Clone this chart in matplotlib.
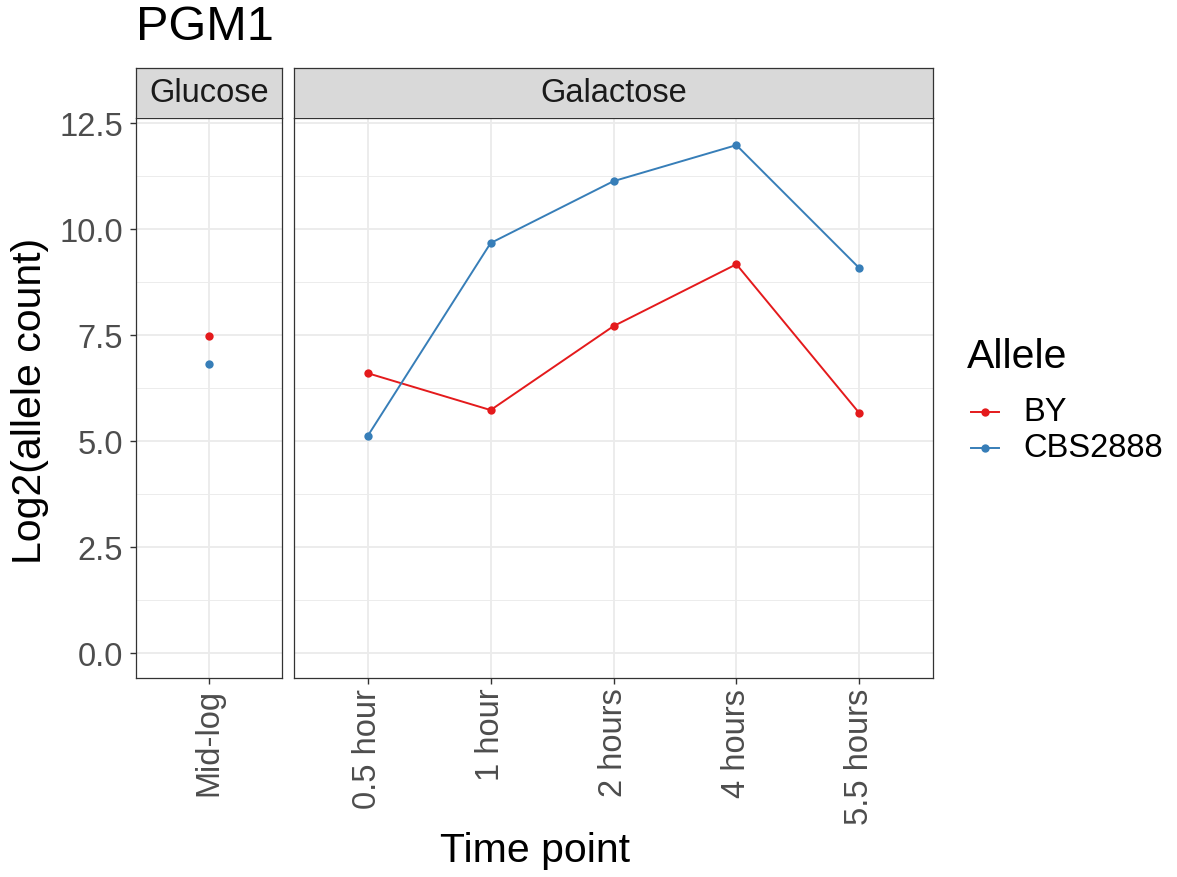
import matplotlib
matplotlib.use("Agg")
import matplotlib.pyplot as plt
from matplotlib.lines import Line2D
from matplotlib.ticker import MultipleLocator

plt.rcParams['font.family'] = ['Liberation Sans', 'DejaVu Sans']

title = "PGM1"
glucose_labels = ["Mid-log"]
galactose_labels = ["0.5 hour", "1 hour", "2 hours", "4 hours", "5.5 hours"]
alleles = ["BY", "CBS2888"]
colors = {"BY": "#E41A1C", "CBS2888": "#377EB8"}

glucose_by = [7.48]
glucose_cbs = [6.82]
galactose_by = [6.60, 5.73, 7.71, 9.17, 5.66]
galactose_cbs = [5.12, 9.67, 11.13, 11.98, 9.08]

W, H = 1177, 878
fig = plt.figure(figsize=(W / 100, H / 100), dpi=100)

def fx(px):
    return px / W

def fy(py):
    return 1 - py / H

panel_top, panel_bot = 119, 679
strip_top = 69
ymin, ymax = -0.59, 12.62

panels = [
    (136, 282, "Glucose", glucose_labels, {"BY": glucose_by, "CBS2888": glucose_cbs}),
    (294, 933, "Galactose", galactose_labels, {"BY": galactose_by, "CBS2888": galactose_cbs}),
]

grid_col = "#EBEBEB"
border_col = "#333333"
tick_col = "#4D4D4D"
small_fs = 23.5
big_fs = 29.5

axes = []
for i, (x0, x1, name, labels, data) in enumerate(panels):
    ax = fig.add_axes([fx(x0), fy(panel_bot), fx(x1) - fx(x0), fy(panel_top) - fy(panel_bot)])
    n = len(labels)
    xs = list(range(n))
    ax.set_xlim(-0.6, n - 1 + 0.6)
    ax.set_ylim(ymin, ymax)
    ax.set_xticks(xs)
    ax.set_xticklabels(labels, rotation=90, fontsize=small_fs, color=tick_col)
    ax.set_yticks([0, 2.5, 5, 7.5, 10, 12.5])
    ax.yaxis.set_minor_locator(MultipleLocator(1.25))
    ax.set_axisbelow(True)
    ax.grid(True, which="major", color=grid_col, linewidth=1.3)
    ax.grid(True, which="minor", axis="y", color=grid_col, linewidth=0.65)
    ax.tick_params(axis="both", which="major", length=4, width=1.0, color=border_col,
                   labelsize=small_fs, labelcolor=tick_col)
    ax.tick_params(axis="y", which="major", pad=5.5)
    ax.tick_params(axis="x", which="major", pad=3)
    ax.tick_params(axis="both", which="minor", length=0)
    for s in ax.spines.values():
        s.set_color(border_col)
        s.set_linewidth(0.9)
    if i == 0:
        ax.set_yticklabels(["0.0", "2.5", "5.0", "7.5", "10.0", "12.5"])
    else:
        ax.tick_params(axis="y", which="both", left=False, labelleft=False)
    for allele in alleles:
        vals = data[allele]
        ax.plot(xs, vals, color=colors[allele], linewidth=1.4, marker="o", markersize=6,
                markeredgewidth=0, zorder=3)
    # strip
    sax = fig.add_axes([fx(x0), fy(panel_top), fx(x1) - fx(x0), fy(strip_top) - fy(panel_top)])
    sax.set_xticks([])
    sax.set_yticks([])
    sax.set_facecolor("#D9D9D9")
    for s in sax.spines.values():
        s.set_color(border_col)
        s.set_linewidth(0.9)
    sax.spines["bottom"].set_visible(False)
    sax.text(0.5, 0.5, name, ha="center", va="center", fontsize=small_fs, color="#1A1A1A",
             transform=sax.transAxes)
    axes.append(ax)

fig.text(fx(136), fy(28), title, fontsize=35, ha="left", va="center", color="black")
fig.text(fx(30), fy(401), "Log2(allele count)", fontsize=big_fs, rotation=90, ha="center", va="center")
fig.text(fx(535), fy(851), "Time point", fontsize=big_fs, ha="center", va="center")

# legend (manual layout)
fig.text(fx(967), fy(357), "Allele", fontsize=big_fs, ha="left", va="center")
for allele, yy in zip(alleles, [413, 449]):
    fig.add_artist(Line2D([fx(971), fx(999)], [fy(yy), fy(yy)], color=colors[allele],
                          linewidth=1.4, transform=fig.transFigure))
    fig.add_artist(Line2D([fx(985)], [fy(yy)], color=colors[allele], marker="o",
                          markersize=6, markeredgewidth=0, linestyle="none",
                          transform=fig.transFigure))
    fig.text(fx(1023), fy(yy), allele, fontsize=small_fs, ha="left", va="center")

fig.savefig("out.png", dpi=100)
